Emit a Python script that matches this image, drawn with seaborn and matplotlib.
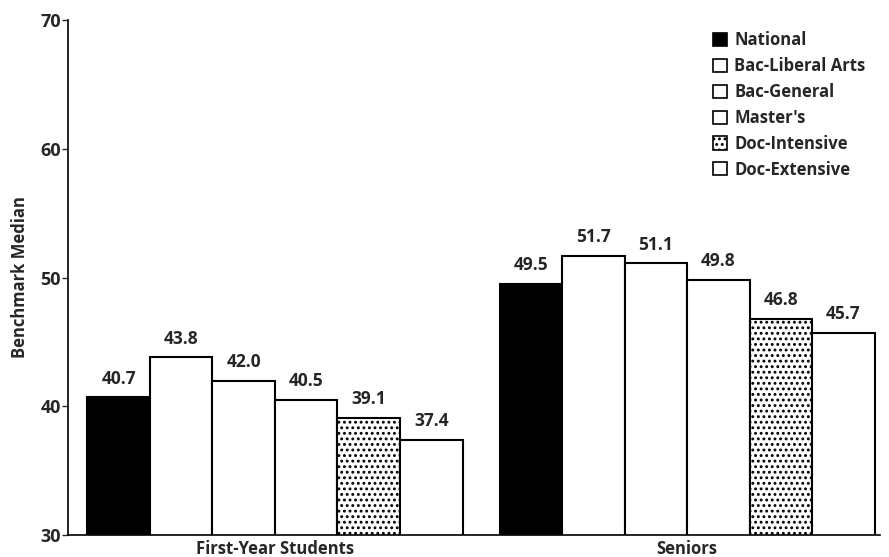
import pandas as pd
import seaborn as sns
import matplotlib.pyplot as plt
from matplotlib.patches import Patch

# Data
groups = ["First-Year Students", "Seniors"]
types = ["National", "Bac-Liberal Arts", "Bac-General", "Master's",
         "Doc-Intensive", "Doc-Extensive"]
first_year = [40.7, 43.8, 42.0, 40.5, 39.1, 37.4]
seniors = [49.5, 51.7, 51.1, 49.8, 46.8, 45.7]

df = pd.DataFrame({
    "group": [groups[0]] * len(types) + [groups[1]] * len(types),
    "type": types * 2,
    "value": first_year + seniors,
})

sns.set_style("white")
plt.rcParams["font.family"] = ["Open Sans", "DejaVu Sans"]
plt.rcParams["font.weight"] = "bold"
plt.rcParams["hatch.linewidth"] = 1.3

colors = ["black", "white", "white", "white", "white", "white"]
palette = dict(zip(types, colors))

fig = plt.figure(figsize=(8.89, 5.57), dpi=100)
ax = fig.add_axes([0.0765, 0.0395, 0.913, 0.9245])

sns.barplot(data=df, x="group", y="value", hue="type", hue_order=types,
            order=groups, palette=palette, width=0.91, edgecolor="black",
            linewidth=1.5, saturation=1, legend=False, ax=ax)

# speckled fill for Doc-Intensive
for bar in ax.containers[4]:
    bar.set_hatch("...")

for cont in ax.containers:
    ax.bar_label(cont, fmt="%.1f", padding=7, fontsize=12.5, fontweight="bold")

ax.set_ylim(30, 70)
ax.set_xlim(-0.502, 1.467)
ax.set_yticks([30, 40, 50, 60, 70])
ax.set_xlabel("")
ax.set_ylabel("Benchmark Median", fontsize=12, fontweight="bold", labelpad=8)
ax.tick_params(axis="y", left=True, length=4, width=1, labelsize=13, pad=1)
ax.tick_params(axis="x", bottom=False, labelsize=12, pad=0)
for lab in ax.get_xticklabels() + ax.get_yticklabels():
    lab.set_fontweight("bold")

sns.despine(ax=ax, top=True, right=True)
ax.spines["left"].set_linewidth(1.2)
ax.spines["bottom"].set_linewidth(1.2)
ax.spines["left"].set_color("black")
ax.spines["bottom"].set_color("black")

handles = []
for t, c in zip(types, colors):
    h = Patch(facecolor=c, edgecolor="black", linewidth=1.2,
              hatch="..." if t == "Doc-Intensive" else None, label=t)
    handles.append(h)
leg = ax.legend(handles=handles, loc="upper right", bbox_to_anchor=(1.001, 1.007),
                frameon=False, handlelength=0.85, handleheight=0.85,
                handletextpad=0.45, labelspacing=0.47, fontsize=12)
for txt in leg.get_texts():
    txt.set_fontweight("bold")

fig.savefig("out.png", dpi=100)
